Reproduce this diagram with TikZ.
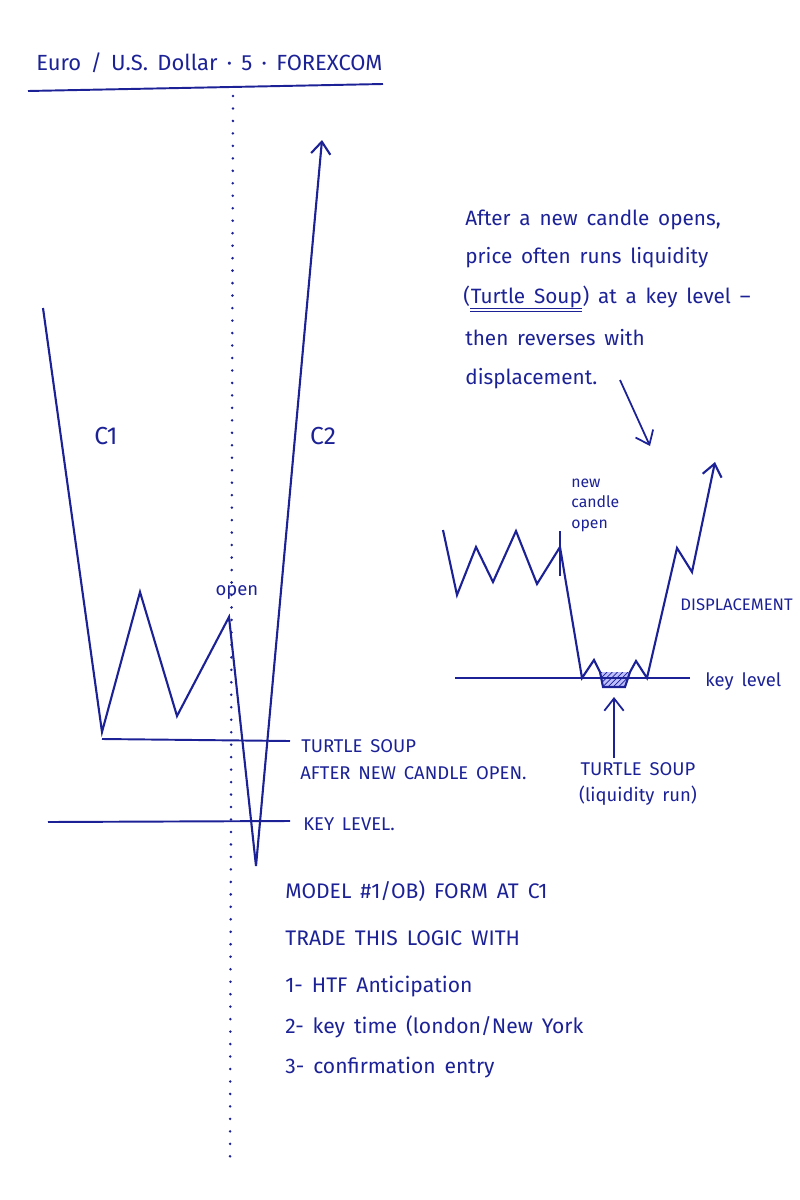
\documentclass[tikz,border=0pt]{standalone}
\usepackage{fontspec}
\setmainfont[WordSpace=1.6]{Fira Sans}
\usetikzlibrary{arrows.meta,patterns}
\definecolor{ink}{RGB}{28,34,150}
\tikzset{
  price/.style={ink, line width=1.2pt, line join=miter},
  level/.style={ink, line width=1.1pt},
  txt/.style={ink, inner sep=0pt, font=\fontsize{10.5}{13}\selectfont},
  note/.style={txt, font=\fontsize{11.8}{14}\selectfont},
  big/.style={txt, font=\fontsize{12}{14}\selectfont},
  small/.style={txt, font=\fontsize{9}{11}\selectfont},
  barb/.style={-{Straight Barb[length=7pt,width=11pt]}}
}
\begin{document}
\begin{tikzpicture}[x=0.02cm, y=-0.02cm]
  \useasboundingbox (0,0) rectangle (799,1200);
  % title
  \node[txt, font=\fontsize{12.5}{15}\selectfont, anchor=base west] (title) at (36,70) {Euro / U.S. Dollar · 5 · FOREXCOM};
  \draw[level] (28,91) -- (383,84);
  % candle open line
  \draw[ink, line width=1.6pt, line cap=round, dash pattern=on 0pt off 7.1pt] (233,96) -- (230,1163);
  % left chart
  \coordinate (c2top) at (322,140);
  \draw[price, barb] (43,308) -- (102,732) -- (140,592) -- (177,716) -- (229,617) -- (256,866) -- (c2top);
  \draw[level] (102,739) -- (290,741);
  \draw[level] (48,822) -- (290,821);
  \node[txt, font=\fontsize{14}{16}\selectfont] (c1) at (106,436) {C1};
  \node[txt, font=\fontsize{14}{16}\selectfont] (c2) at (323,436) {C2};
  \node[txt] (open) at (237,592) {open};
  \node[txt, anchor=base west] (ts) at (301,752) {TURTLE SOUP};
  \node[txt, anchor=base west] (after) at (300,779) {AFTER NEW CANDLE OPEN.};
  \node[txt, anchor=base west] (key) at (303,830) {KEY LEVEL.};
  % note
  \node[note, anchor=base west] (p1) at (465,225) {After a new candle opens,};
  \node[note, anchor=base west] (p2) at (465,263) {price often runs liquidity};
  \node[note, anchor=base west] (p3) at (463,303) {(};
  \node[note, anchor=base west] (soup) at (p3.base east) {Turtle Soup};
  \node[note, anchor=base west] (p3b) at (soup.base east) {) at a key level –};
  \node[note, anchor=base west] (p4) at (465,345) {then reverses with};
  \node[note, anchor=base west] (p5) at (465,384) {displacement.};
  \draw[ink, line width=0.8pt] ([yshift=-3pt]soup.base west) -- ([yshift=-3pt]soup.base east);
  \draw[ink, line width=0.8pt] ([yshift=-5pt]soup.base west) -- ([yshift=-5pt]soup.base east);
  \coordinate (ptip) at (650,446);
  \draw[ink, line width=1pt, barb] (620,380) -- (ptip);
  % right chart
  \fill[blue!25] (600,672) -- (630,672) -- (625,687) -- (603,687) -- cycle;
  \fill[pattern=north east lines, pattern color=ink] (600,672) -- (630,672) -- (625,687) -- (603,687) -- cycle;
  \draw[level] (455,678) -- (690,678);
  \coordinate (rtop) at (715,462);
  \draw[price, barb] (443,530) -- (457,595) -- (476,547) -- (493,582) -- (516,531) -- (537,584) -- (560,547)
    -- (582,678) -- (594,660) -- (600,672) -- (603,687) -- (625,687) -- (630,672) -- (636,661)
    -- (647,678) -- (677,548) -- (692,572) -- (rtop);
  \draw[ink, line width=1pt] (560,531) -- (560,576);
  \node[small, anchor=base west] (nw1) at (571,487) {new};
  \node[small, anchor=base west] (nw2) at (571,507) {candle};
  \node[small, anchor=base west] (nw3) at (571,528) {open};
  \node[txt, font=\fontsize{9.5}{12}\selectfont, anchor=base west] (disp) at (680,610) {DISPLACEMENT};
  \node[txt, anchor=base west] (kl) at (705,686) {key level};
  \node[txt, anchor=base] (ts2) at (638,775) {TURTLE SOUP};
  \node[txt, anchor=base] (liq) at (638,801) {(liquidity run)};
  \coordinate (hatch) at (614,697);
  \draw[ink, line width=1pt, barb] (614,758) -- (hatch);
  % rules
  \node[big, anchor=base west] (m1) at (285,898) {MODEL \#1/OB) FORM AT C1};
  \node[big, anchor=base west] (m2) at (285,945) {TRADE THIS LOGIC WITH};
  \node[big, anchor=base west] (m3) at (285,992) {1- HTF Anticipation};
  \node[big, anchor=base west] (m4) at (285,1033) {2- key time (london/New York};
  \node[big, anchor=base west] (m5) at (285,1073) {3- confirmation entry};
\end{tikzpicture}
\end{document}
